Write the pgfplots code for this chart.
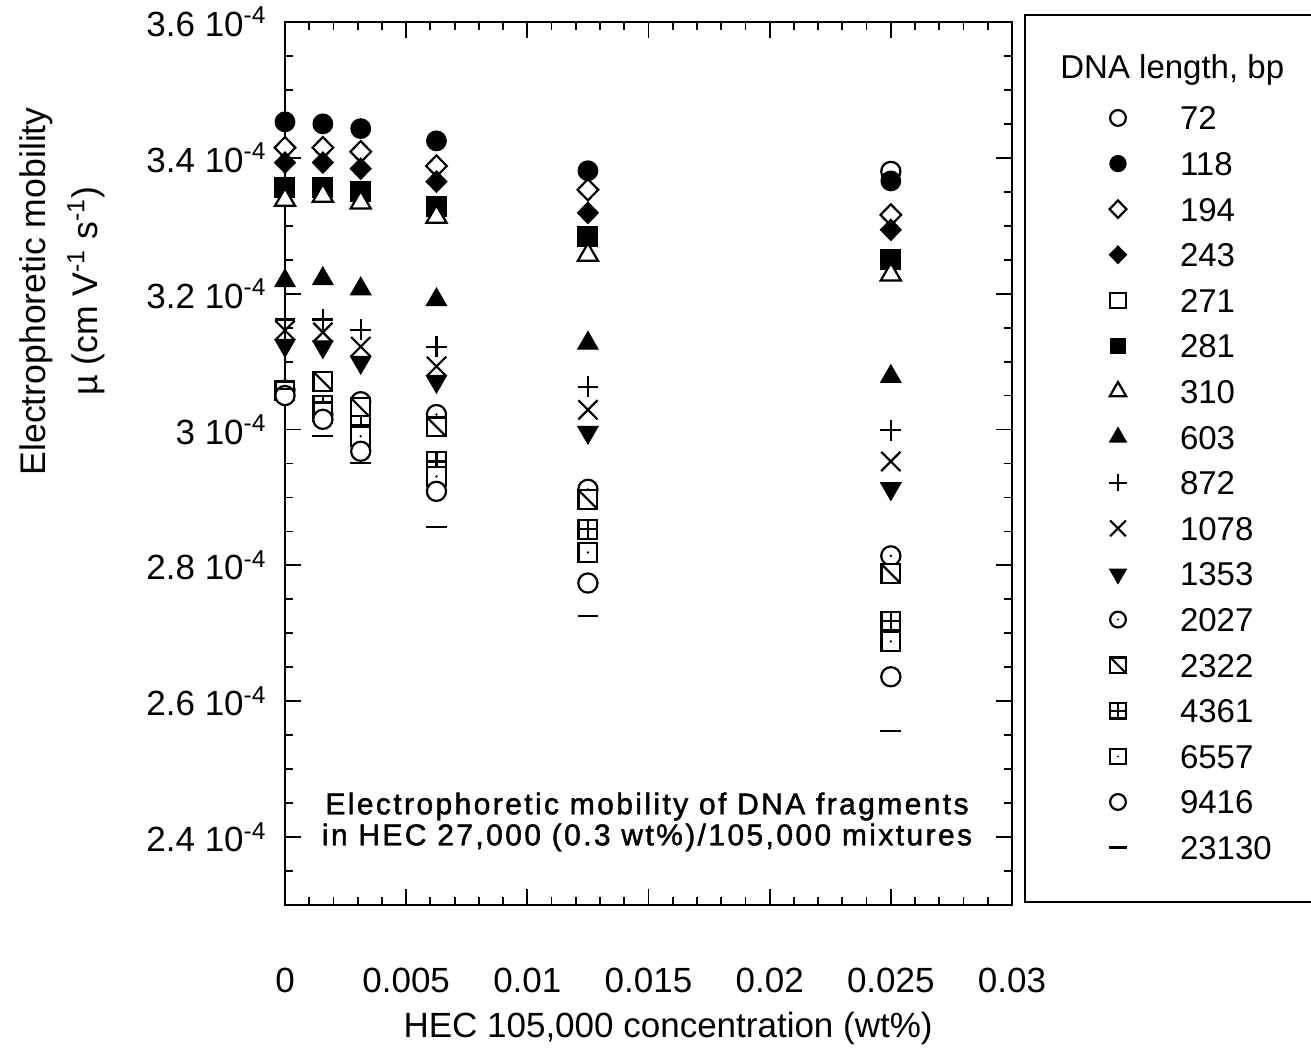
\documentclass[border=0pt]{standalone}
\usepackage{fontspec}
\setmainfont{Liberation Sans}
\usepackage{pgfplots}
\pgfplotsset{compat=1.18}
\usetikzlibrary{plotmarks}

\pgfdeclareplotmark{odot}{%
  \pgfpathcircle{\pgfpointorigin}{\pgfplotmarksize}\pgfusepathqfillstroke
  \pgfscope\pgfsetfillcolor{black}%
  \pgfpathcircle{\pgfpointorigin}{0.14\pgfplotmarksize}\pgfusepathqfill\endpgfscope}
\pgfdeclareplotmark{sqslash}{%
  \pgfpathrectangle{\pgfqpoint{-\pgfplotmarksize}{-\pgfplotmarksize}}{\pgfqpoint{2\pgfplotmarksize}{2\pgfplotmarksize}}\pgfusepathqfillstroke
  \pgfpathmoveto{\pgfqpoint{-\pgfplotmarksize}{\pgfplotmarksize}}
  \pgfpathlineto{\pgfqpoint{\pgfplotmarksize}{-\pgfplotmarksize}}\pgfusepathqstroke}
\pgfdeclareplotmark{sqplus}{%
  \pgfpathrectangle{\pgfqpoint{-\pgfplotmarksize}{-\pgfplotmarksize}}{\pgfqpoint{2\pgfplotmarksize}{2\pgfplotmarksize}}\pgfusepathqfillstroke
  \pgfpathmoveto{\pgfqpoint{-\pgfplotmarksize}{0pt}}
  \pgfpathlineto{\pgfqpoint{\pgfplotmarksize}{0pt}}
  \pgfpathmoveto{\pgfqpoint{0pt}{-\pgfplotmarksize}}
  \pgfpathlineto{\pgfqpoint{0pt}{\pgfplotmarksize}}\pgfusepathqstroke}
\pgfdeclareplotmark{sqdot}{%
  \pgfpathrectangle{\pgfqpoint{-\pgfplotmarksize}{-\pgfplotmarksize}}{\pgfqpoint{2\pgfplotmarksize}{2\pgfplotmarksize}}\pgfusepathqfillstroke
  \pgfscope\pgfsetfillcolor{black}%
  \pgfpathcircle{\pgfpointorigin}{0.14\pgfplotmarksize}\pgfusepathqfill\endpgfscope}

\pgfplotsset{
  openmk/.style={mark options={fill=white,draw=black,line width=1.1pt,#1}},
  openmk/.default={},
  fillmk/.style={mark options={fill=black,draw=black,line width=0.6pt,#1}},
  fillmk/.default={},
}

\begin{document}
\begin{tikzpicture}
\path[use as bounding box] (-142.5pt,-74pt) rectangle (513pt,452.5pt);
\begin{axis}[
  at={(0pt,0pt)}, anchor=south west,
  scale only axis, width=363.5pt, height=441.5pt,
  xmin=0, xmax=0.03, ymin=2.3, ymax=3.6,
  clip=false,
  axis line style={line width=1pt},
  tick align=inside, xtick pos=both, ytick pos=both,
  major tick length=8pt, minor tick length=4pt,
  every tick/.style={line width=0.9pt,black},
  xtick={0,0.005,0.01,0.015,0.02,0.025,0.03},
  xticklabels={0,0.005,0.01,0.015,0.02,0.025,0.03},
  minor xtick={0,0.001,...,0.0305},
  ytick={2.4,2.6,2.8,3.0,3.2,3.4,3.6},
  yticklabels={2.4 10\textsuperscript{-4},2.6 10\textsuperscript{-4},2.8 10\textsuperscript{-4},3 10\textsuperscript{-4},3.2 10\textsuperscript{-4},3.4 10\textsuperscript{-4},3.6 10\textsuperscript{-4}},
  minor ytick={2.3,2.35,...,3.61},
  tick label style={font=\fontsize{17.5}{21}\selectfont},
  xticklabel style={yshift=-28pt},
  yticklabel style={xshift=-5.7pt},
  xlabel={HEC 105,000 concentration (wt\%)},
  xlabel style={at={(axis description cs:0.527,-0.1395)}, anchor=center, inner sep=1pt, font=\fontsize{17.5}{21}\selectfont},
  ylabel={Electrophoretic mobility\\µ (cm V\textsuperscript{-1} s\textsuperscript{-1})},
  ylabel style={at={(axis description cs:-0.307,0.695)}, anchor=center, align=center, font=\fontsize{17.8}{26}\selectfont},
  only marks,
  every axis plot/.append style={black},
  legend image code/.code={\path[draw=none,fill=none] (-6pt,-6pt) rectangle (31pt,6pt);
     \draw[#1,/tikz/every mark/.append style={scale=0.82}] plot coordinates {(0pt,0pt)};},
  legend cell align=left,
  legend style={at={(axis description cs:1.1293,0.9049)}, anchor=north west,
     draw=none, fill=none, inner sep=0pt, outer sep=0pt,
     row sep=10.8pt, column sep=0pt,
     font=\fontsize{16.5}{18}\selectfont,
     nodes={inner sep=0pt, text height=12pt, text depth=0pt}},
]
% 72
\addplot[mark=*, mark size=4.8pt, openmk] coordinates {(0.025,3.380)};
\addlegendentry{72}
% 118
\addplot[mark=*, mark size=4.9pt, fillmk] coordinates {(0,3.453) (0.0015625,3.450) (0.003125,3.443) (0.00625,3.425) (0.0125,3.381) (0.025,3.366)};
\addlegendentry{118}
% 194
\addplot[mark=diamond*, mark size=5.3pt, openmk={xscale=1.3}] coordinates {(0,3.415) (0.0015625,3.415) (0.003125,3.409) (0.00625,3.388) (0.0125,3.353) (0.025,3.316)};
\addlegendentry{194}
% 243
\addplot[mark=diamond*, mark size=5.3pt, fillmk={xscale=1.3}] coordinates {(0,3.393) (0.0015625,3.393) (0.003125,3.384) (0.00625,3.365) (0.0125,3.319) (0.025,3.294)};
\addlegendentry{243}
% 271
\addplot[mark=square*, mark size=4.7pt, openmk] coordinates {(0,3.356) (0.0015625,3.357) (0.003125,3.350) (0.00625,3.329) (0.0125,3.284) (0.025,3.251)};
\addlegendentry{271}
% 281
\addplot[mark=square*, mark size=4.7pt, fillmk] coordinates {(0,3.356) (0.0015625,3.357) (0.003125,3.350) (0.00625,3.329) (0.0125,3.284) (0.025,3.251)};
\addlegendentry{281}
% 310
\addplot[mark=triangle*, mark size=5.8pt, openmk] coordinates {(0,3.338) (0.0015625,3.344) (0.003125,3.334) (0.00625,3.313) (0.0125,3.257) (0.025,3.228)};
\addlegendentry{310}
% 603
\addplot[mark=triangle*, mark size=5.8pt, fillmk] coordinates {(0,3.219) (0.0015625,3.222) (0.003125,3.207) (0.00625,3.191) (0.0125,3.127) (0.025,3.078)};
\addlegendentry{603}
% 872
\addplot[mark=+, mark size=5.2pt, mark options={line width=1.1pt}] coordinates {(0,3.162) (0.0015625,3.162) (0.003125,3.147) (0.00625,3.122) (0.0125,3.063) (0.025,2.999)};
\addlegendentry{872}
% 1078
\addplot[mark=x, mark size=6.8pt, mark options={line width=1.1pt}] coordinates {(0,3.146) (0.0015625,3.143) (0.003125,3.122) (0.00625,3.093) (0.0125,3.029) (0.025,2.953)};
\addlegendentry{1078}
% 1353
\addplot[mark=triangle*, mark size=5.8pt, mark options={rotate=180,fill=black,draw=black,line width=0.6pt}] coordinates {(0,3.124) (0.0015625,3.122) (0.003125,3.099) (0.00625,3.071) (0.0125,2.996) (0.025,2.913)};
\addlegendentry{1353}
% 2027
\addplot[mark=odot, mark size=4.8pt, openmk] coordinates {(0,3.058) (0.0015625,3.022) (0.003125,3.041) (0.00625,3.022) (0.0125,2.912) (0.025,2.814)};
\addlegendentry{2027}
% 2322
\addplot[mark=sqslash, mark size=4.7pt, openmk] coordinates {(0,3.057) (0.0015625,3.071) (0.003125,3.032) (0.00625,3.004) (0.0125,2.897) (0.025,2.788)};
\addlegendentry{2322}
% 4361
\addplot[mark=sqplus, mark size=4.7pt, openmk] coordinates {(0,3.058) (0.0015625,3.035) (0.003125,3.006) (0.00625,2.953) (0.0125,2.853) (0.025,2.718)};
\addlegendentry{4361}
% 6557
\addplot[mark=sqdot, mark size=4.7pt, openmk] coordinates {(0,3.057) (0.0015625,3.026) (0.003125,2.990) (0.00625,2.931) (0.0125,2.819) (0.025,2.688)};
\addlegendentry{6557}
% 9416
\addplot[mark=*, mark size=4.8pt, openmk] coordinates {(0,3.050) (0.0015625,3.015) (0.003125,2.968) (0.00625,2.909) (0.0125,2.774) (0.025,2.636)};
\addlegendentry{9416}
% 23130
\addplot[mark=-, mark size=5.2pt, mark options={line width=1.1pt}] coordinates {(0,3.060) (0.0015625,2.990) (0.003125,2.951) (0.00625,2.857) (0.0125,2.725) (0.025,2.556)};
\addlegendentry{23130}

\draw[line width=1pt] (axis description cs:1.0179,0.0034) rectangle (axis description cs:1.437,1.0079);
\node[anchor=west, inner xsep=0pt, font=\fontsize{16.5}{18}\selectfont] at (axis description cs:1.066,0.9456) {DNA length, bp};
\node[align=center, font=\fontsize{15}{15.5}\addfontfeatures{LetterSpace=8,FakeBold=1.5}\selectfont] at (axis description cs:0.498,0.094)
  {Electrophoretic mobility of DNA fragments\\in HEC 27,000 (0.3 wt\%)/105,000 mixtures};
\end{axis}
\end{tikzpicture}
\end{document}
